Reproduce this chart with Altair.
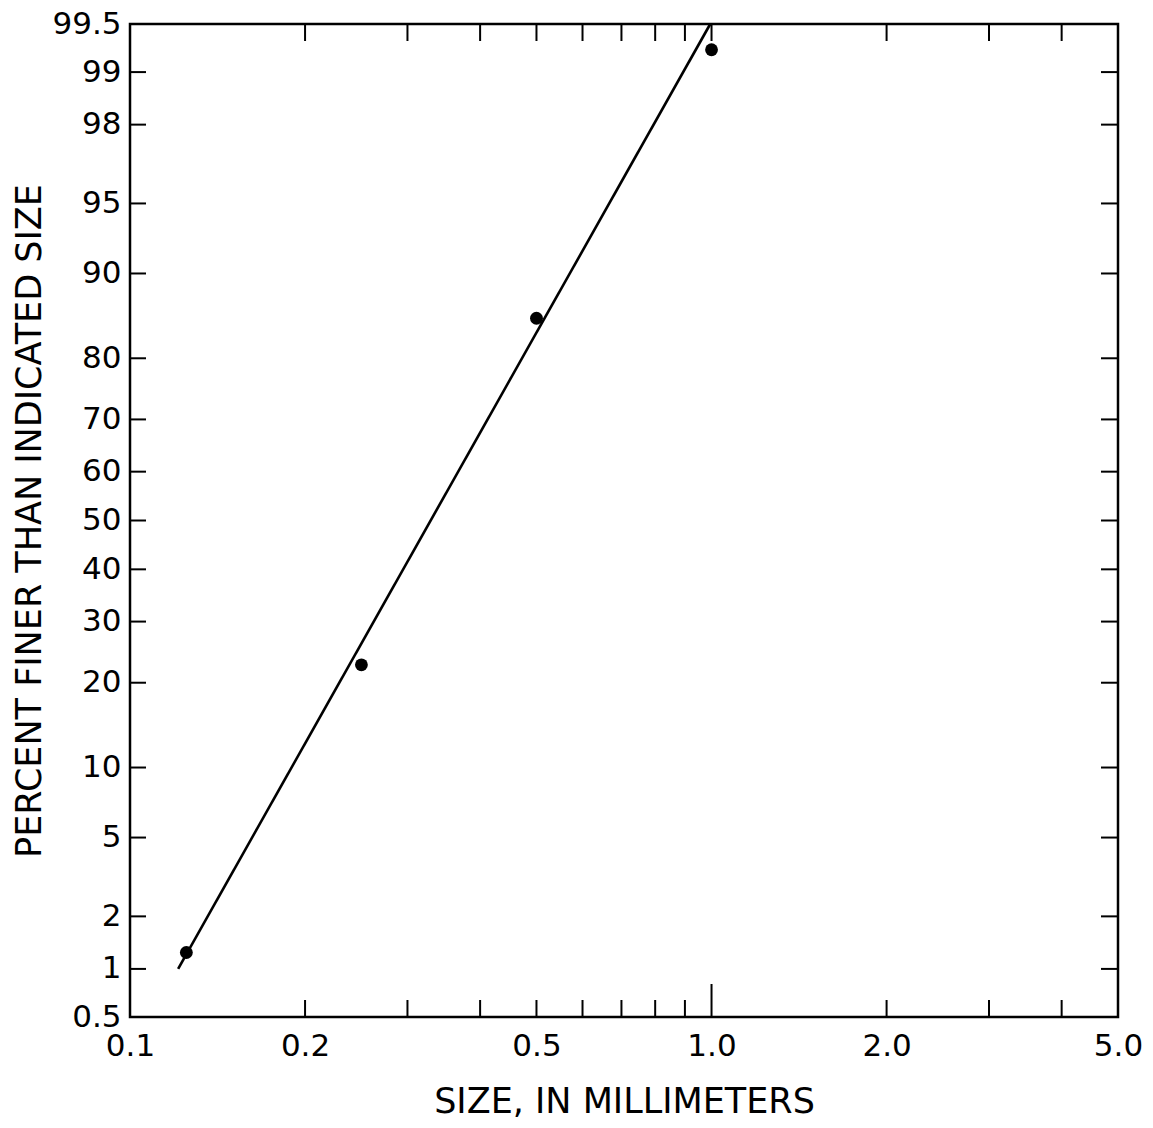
import altair as alt
import pandas as pd
from statistics import NormalDist

# ---- data ----
size_mm = [0.125, 0.25, 0.5, 1.0]
pct_finer = [1.25, 22.7, 85.3, 99.27]

line_size = [0.121, 0.995]
line_pct = [1.0, 99.5]

x_label_vals = [0.1, 0.2, 0.5, 1.0, 2.0, 5.0]
x_minor_ticks = [0.2, 0.3, 0.4, 0.5, 0.6, 0.7, 0.8, 0.9, 2.0, 3.0, 4.0]
x_top_ticks = [0.2, 0.3, 0.4, 0.5, 0.6, 0.7, 0.8, 0.9, 1.0, 2.0, 3.0, 4.0]
x_long_ticks = [1.0]
y_label_pcts = [0.5, 1, 2, 5, 10, 20, 30, 40, 50, 60, 70, 80, 90, 95, 98, 99, 99.5]
y_tick_pcts = [1, 2, 5, 10, 20, 30, 40, 50, 60, 70, 80, 90, 95, 98, 99]

W, H = 988, 993
FONT = "DejaVu Sans"

nd = NormalDist()
y_label_z = [nd.inv_cdf(p / 100) for p in y_label_pcts]
zmin, zmax = nd.inv_cdf(0.005), nd.inv_cdf(0.995)

xscale = alt.Scale(type="log", domain=[0.1, 5.0], nice=False)
yscale = alt.Scale(type="linear", domain=[zmin, zmax], nice=False, zero=False)

pts = pd.DataFrame({"size": size_mm, "pct": pct_finer})
fit = pd.DataFrame({"size": line_size, "pct": line_pct})

x_axis = alt.Axis(
    values=x_label_vals, labelExpr="format(datum.value, '.1f')",
    ticks=False, domain=False, grid=False, labelFlush=False,
    labelFont=FONT, labelFontSize=31, labelColor="black", labelPadding=14,
    title="SIZE, IN MILLIMETERS", titleFont=FONT, titleFontSize=35,
    titleFontWeight="normal", titleColor="black", titleY=84,
    titleBaseline="middle",
)
y_axis = alt.Axis(
    values=y_label_z,
    labelExpr="format(round(cumulativeNormal(datum.value)*1000)/10, '~g')",
    ticks=False, domain=False, grid=False, labelFlush=False,
    labelFont=FONT, labelFontSize=31, labelColor="black", labelPadding=9,
    labelOverlap=False,
    title="PERCENT FINER THAN INDICATED SIZE", titleFont=FONT, titleFontSize=35,
    titleFontWeight="normal", titleColor="black", titleX=-101, titleY=H / 2,
    titleBaseline="middle",
)

points = alt.Chart(pts).transform_calculate(
    z="quantileNormal(datum.pct/100)"
).mark_point(filled=True, color="black", size=165, opacity=1).encode(
    x=alt.X("size:Q", scale=xscale, axis=x_axis),
    y=alt.Y("z:Q", scale=yscale, axis=y_axis),
)

line = alt.Chart(fit).transform_calculate(
    z="quantileNormal(datum.pct/100)"
).mark_line(color="black", strokeWidth=2.6).encode(
    x=alt.X("size:Q", scale=xscale, axis=x_axis),
    y=alt.Y("z:Q", scale=yscale, axis=y_axis),
)

def xticks(vals, y0, y1):
    return alt.Chart(pd.DataFrame({"size": vals})).mark_rule(color="black", strokeWidth=2).encode(
        x=alt.X("size:Q", scale=xscale, axis=x_axis),
        y=alt.value(y0), y2=alt.value(y1),
    )

def yticks(vals, x0, x1):
    return alt.Chart(pd.DataFrame({"pct": vals})).transform_calculate(
        z="quantileNormal(datum.pct/100)"
    ).mark_rule(color="black", strokeWidth=2).encode(
        y=alt.Y("z:Q", scale=yscale, axis=y_axis),
        x=alt.value(x0), x2=alt.value(x1),
    )

layers = [
    points,
    line,
    xticks(x_minor_ticks, H, H - 17),
    xticks(x_long_ticks, H, H - 33),
    xticks(x_top_ticks, 0, 17),
    yticks(y_tick_pcts, 0, 16),
    yticks(y_tick_pcts, W, W - 17),
]

chart = alt.layer(*layers).properties(
    width=W, height=H,
    background="white",
    autosize=alt.AutoSizeParams(type="none"),
    padding={"left": 130, "top": 24, "right": 35, "bottom": 111},
).configure_view(
    stroke="black", strokeWidth=2.5
)

chart.save("out.html", embed_options={"renderer": "svg", "actions": False})
